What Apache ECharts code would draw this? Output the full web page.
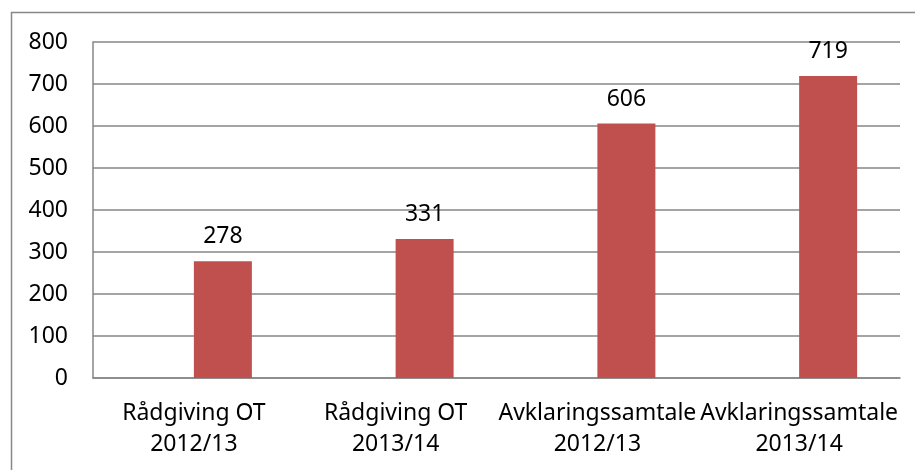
<!DOCTYPE html>
<html>
<head>
<meta charset="utf-8">
<script src="https://cdn.jsdelivr.net/npm/echarts@6/dist/echarts.min.js"></script>
<style>
html,body{margin:0;padding:0;background:#fff;}
#chart{width:915px;height:470px;}
</style>
</head>
<body>
<div id="chart"></div>
<script>
const categories = ["Rådgiving OT\n2012/13", "Rådgiving OT\n2013/14", "Avklaringssamtale\n2012/13", "Avklaringssamtale\n2013/14"];
const emptySeries = ["-", "-", "-", "-"];
const values = [278, 331, 606, 719];
const yTicks = {min: 0, max: 800, interval: 100};

const chart = echarts.init(document.getElementById('chart'), null, {renderer: 'canvas'});
const font = '"Noto Sans", "Open Sans", sans-serif';
chart.setOption({
  animation: false,
  backgroundColor: '#fff',
  graphic: [{
    type: 'rect',
    shape: {x: 11.5, y: 12.5, width: 1200, height: 1200},
    style: {fill: 'none', stroke: '#888888', lineWidth: 1.5},
    silent: true
  }],
  grid: {left: 93, top: 42, right: 15, bottom: 92, containLabel: false},
  xAxis: {
    type: 'category',
    data: categories,
    axisLine: {show: true, lineStyle: {color: '#868686', width: 1.5}},
    axisTick: {show: false},
    axisLabel: {interval: 0, color: '#000', fontFamily: font, fontSize: 23, lineHeight: 31, margin: 20}
  },
  yAxis: {
    type: 'value',
    min: yTicks.min, max: yTicks.max, interval: yTicks.interval,
    axisLine: {show: true, lineStyle: {color: '#868686', width: 1.5}},
    axisTick: {show: false},
    splitLine: {show: true, lineStyle: {color: '#868686', width: 1.5}},
    axisLabel: {color: '#000', fontFamily: font, fontSize: 23, margin: 25}
  },
  series: [
    {type: 'bar', data: emptySeries, barWidth: 58, barGap: '0%', itemStyle: {color: '#4F81BD'}},
    {type: 'bar', data: values, barWidth: 58, barGap: '0%', itemStyle: {color: '#C0504D'},
     label: {show: true, position: 'top', distance: 13, color: '#000', fontFamily: font, fontSize: 23}}
  ]
});
</script>
</body>
</html>
